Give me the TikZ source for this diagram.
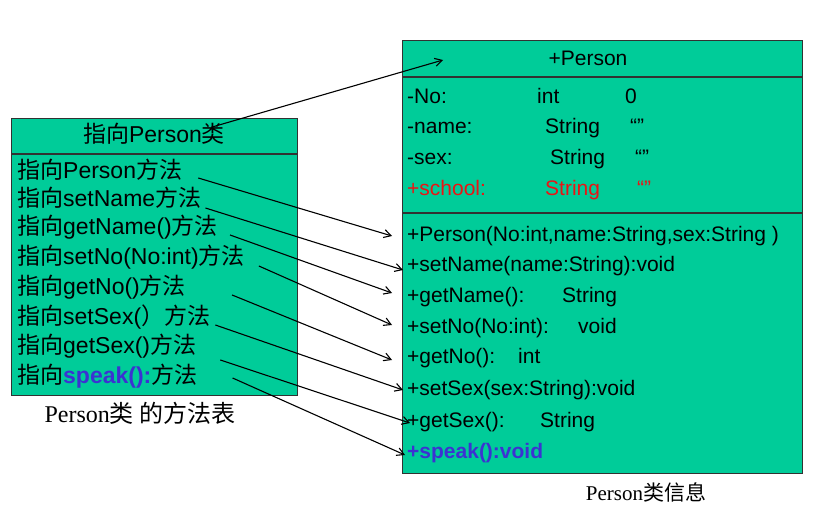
\documentclass[tikz,border=0pt]{standalone}
\usepackage{fontspec}
\usetikzlibrary{arrows.meta}
\setmainfont{Liberation Sans}
\newfontfamily\cjk{Noto Sans CJK SC}
\newfontfamily\serif{Liberation Serif}
\newcommand{\zhtext}[1]{{\cjk #1}}
\newcommand{\colbox}[2]{\makebox[#1][l]{#2}}
\definecolor{boxgreen}{RGB}{0,204,153}
\definecolor{boxline}{RGB}{50,50,50}
\definecolor{fieldred}{RGB}{235,20,20}
\definecolor{speakblue}{RGB}{60,50,210}
\tikzset{
  box/.style={draw=boxline, fill=boxgreen, line width=1pt},
  sep/.style={draw=boxline, line width=2pt},
  row/.style={anchor=west, inner sep=0pt, text height=15pt, text depth=4pt, font=\fontsize{21}{25}\selectfont},
  lrow/.style={row, font=\fontsize{23}{27}\selectfont},
  link/.style={->, >={Straight Barb[length=7pt,width=8pt]}, line width=1.1pt}
}
\begin{document}
\begin{tikzpicture}[x=1pt,y=-1pt]
\useasboundingbox (0,0) rectangle (815,522);

\draw[box] (11,118) rectangle (297,395);
\draw[sep] (11,154) -- (297,154);
\node[lrow, anchor=center] (lhead) at (154,137) {\zhtext{指向}Person\zhtext{类}};
\node[lrow] (l1) at (17,173) {\zhtext{指向}Person\zhtext{方法}};
\node[lrow] (l2) at (17,201) {\zhtext{指向}setName\zhtext{方法}};
\node[lrow] (l3) at (17,229) {\zhtext{指向}getName()\zhtext{方法}};
\node[lrow] (l4) at (17,259) {\zhtext{指向}setNo(No:int)\zhtext{方法}};
\node[lrow] (l5) at (17,289) {\zhtext{指向}getNo()\zhtext{方法}};
\node[lrow] (l6) at (17,319) {\zhtext{指向}setSex(\zhtext{）方法}};
\node[lrow] (l7) at (17,348) {\zhtext{指向}getSex()\zhtext{方法}};
\node[lrow] (l8) at (17,378) {\zhtext{指向}{\color{speakblue}\bfseries speak():}\zhtext{方法}};
\node[font=\fontsize{24}{28}\selectfont\serif] (lcap) at (140,413) {Person\zhtext{类 的方法表}};

\draw[box] (402,40) rectangle (802,473);
\draw[sep] (402,77) -- (802,77);
\draw[sep] (402,213) -- (802,213);
\node[row, anchor=center] (rhead) at (588,60) {+Person};
\coordinate (ptr) at (443,60);
\node[row] (a1) at (407,98) {\colbox{130pt}{-No:}\colbox{88pt}{int}0};
\node[row] (a2) at (407,128) {\colbox{138pt}{-name:}\colbox{85pt}{String}“”};
\node[row] (a3) at (407,159) {\colbox{143pt}{-sex:}\colbox{85pt}{String}“”};
\node[row, text=fieldred] (a4) at (407,190) {\colbox{138pt}{+school:}\colbox{92pt}{String}“”};
\node[row] (m1) at (407,236) {+Person(No:int,name:String,sex:String )};
\node[row] (m2) at (407,266) {+setName(name:String):void};
\node[row] (m3) at (407,297) {\colbox{155pt}{+getName():}String};
\node[row] (m4) at (407,328) {\colbox{171pt}{+setNo(No:int):}void};
\node[row] (m5) at (407,358) {\colbox{111pt}{+getNo():}int};
\node[row] (m6) at (407,390) {+setSex(sex:String):void};
\node[row] (m7) at (407,422) {\colbox{133pt}{+getSex():}String};
\node[row, text=speakblue, font=\fontsize{21}{25}\selectfont\bfseries] (m8) at (407,453) {+speak():void};
\node[font=\fontsize{21}{25}\selectfont\serif] (rcap) at (646,492) {Person\zhtext{类信息}};

\draw[link] ([xshift=-14pt]lhead.north east) -- (ptr);
\draw[link] ([shift={(16pt,-5pt)}]l1.east) -- ([xshift=-15pt]m1.west);
\draw[link] ([shift={(4pt,-7pt)}]l2.east) -- ([shift={(-4pt,-4pt)}]m2.west);
\draw[link] ([shift={(12pt,-6pt)}]l3.east) -- ([shift={(-15pt,4pt)}]m3.west);
\draw[link] ([shift={(14pt,-7pt)}]l4.east) -- ([shift={(-15pt,3pt)}]m4.west);
\draw[link] ([shift={(46pt,-6pt)}]l5.east) -- ([shift={(-15pt,-2pt)}]m5.west);
\draw[link] ([shift={(5pt,-6pt)}]l6.east) -- ([xshift=-4pt]m6.west);
\draw[link] ([shift={(24pt,-12pt)}]l7.east) -- ([shift={(3pt,-1pt)}]m7.west);
\draw[link] ([shift={(35pt,0pt)}]l8.east) -- ([shift={(-2pt,-2pt)}]m8.west);
\end{tikzpicture}
\end{document}
